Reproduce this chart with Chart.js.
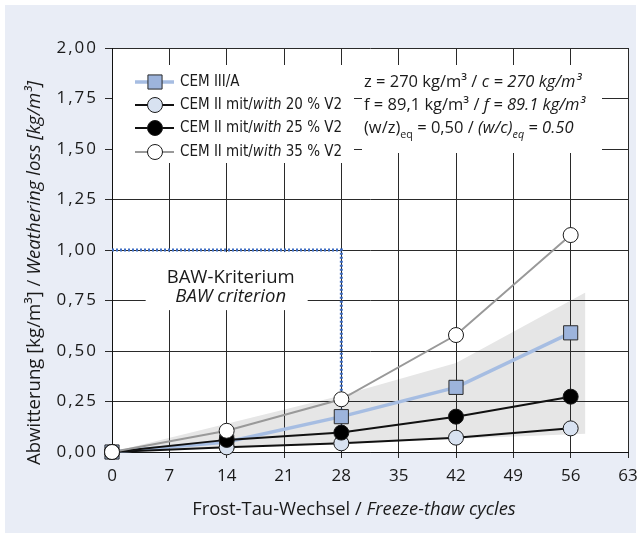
<!DOCTYPE html>
<html>
<head>
<meta charset="utf-8">
<script src="https://cdn.jsdelivr.net/npm/chart.js@4"></script>
<style>
  body { margin: 0; background: #fff; }
  #wrap { position: relative; width: 641px; height: 535px; }
  #bg { position: absolute; left: 5px; top: 5px; width: 631px; height: 528px; background: #e9edf6; }
  #plotbg { position: absolute; left: 112px; top: 48px; width: 516px; height: 404px; background: #fff; }
  canvas { position: absolute; left: 0; top: 0; }
</style>
</head>
<body>
<div id="wrap">
  <div id="bg"></div>
  <div id="plotbg"></div>
  <canvas id="chart" width="641" height="535"></canvas>
</div>
<script>
const cycles = [0, 14, 28, 42, 56];
const cem3a = [0, 0.05, 0.175, 0.32, 0.59];
const cem2v20 = [0, 0.023, 0.043, 0.071, 0.117];
const cem2v25 = [0, 0.06, 0.096, 0.175, 0.274];
const cem2v35 = [0, 0.105, 0.261, 0.579, 1.074];

const bawX = [0, 28, 28];
const bawY = [1, 1, 0];

const bandX = [0, 28, 42, 57.8];
const bandUpper = [0, 0.28, 0.44, 0.79];
const bandLower = [0, 0.04, 0.065, 0.09];

const xTicks = [0, 7, 14, 21, 28, 35, 42, 49, 56, 63];
const yTicks = [0, 0.25, 0.5, 0.75, 1, 1.25, 1.5, 1.75, 2];
const yTickLabels = ['0,00', '0,25', '0,50', '0,75', '1,00', '1,25', '1,50', '1,75', '2,00'];

const pts = (xs, ys) => xs.map((x, i) => ({ x: x, y: ys[i] }));

const FONT = '"Open Sans", sans-serif';
const NARROW = '"Liberation Sans Narrow", "DejaVu Sans Condensed", sans-serif';
const TXT = '#1a1a1a';

// draws text made of several runs (normal / italic / subscript)
function drawRich(ctx, x, y, parts, size, family, align) {
  const fontFor = p => (p.italic ? 'italic ' : '') + (p.sub ? size * 0.65 : size) + 'px ' + family;
  let total = 0;
  parts.forEach(p => { ctx.font = fontFor(p); total += ctx.measureText(p.t).width; });
  let cx = align === 'center' ? x - total / 2 : x;
  ctx.textAlign = 'left';
  ctx.textBaseline = 'middle';
  parts.forEach(p => {
    ctx.font = fontFor(p);
    ctx.fillText(p.t, cx, p.sub ? y + size * 0.4 : y);
    cx += ctx.measureText(p.t).width;
  });
}

// legend rows point at dataset indexes
const legendItems = [
  { ds: 3, parts: [{ t: 'CEM III/A' }] },
  { ds: 2, parts: [{ t: 'CEM II mit/' }, { t: 'with', italic: true }, { t: ' 20 % V2' }] },
  { ds: 1, parts: [{ t: 'CEM II mit/' }, { t: 'with', italic: true }, { t: ' 25 % V2' }] },
  { ds: 0, parts: [{ t: 'CEM II mit/' }, { t: 'with', italic: true }, { t: ' 35 % V2' }] }
];

const annot = {
  id: 'annot',
  beforeDraw(chart) {
    // y tick labels are wider spaced in the original
    chart.ctx.letterSpacing = '2px';
  },
  beforeDatasetsDraw(chart) {
    const { ctx, chartArea: a, scales: { x, y } } = chart;
    ctx.letterSpacing = '0px';
    ctx.save();
    ctx.fillStyle = '#fff';
    ctx.fillRect(a.left + 1, 65, 241, 98);
    ctx.fillRect(362, 65, 240, 88);
    const bx = x.getPixelForValue(14), by = y.getPixelForValue(0.846);
    ctx.fillRect(bx - 81, by - 29, 162, 58);

    ctx.fillStyle = TXT;
    drawRich(ctx, bx + 4, by - 3, [{ t: 'BAW-Kriterium' }], 18.5, FONT, 'center');
    drawRich(ctx, bx + 4, by + 16, [{ t: 'BAW criterion', italic: true }], 18.5, FONT, 'center');

    // legend
    const rows = [82, 105, 128, 152];
    legendItems.forEach((it, i) => {
      const d = chart.data.datasets[it.ds];
      const ry = rows[i];
      ctx.strokeStyle = d.borderColor;
      ctx.lineWidth = d.borderWidth;
      ctx.beginPath();
      ctx.moveTo(135, ry);
      ctx.lineTo(174, ry);
      ctx.stroke();
      ctx.fillStyle = d.pointBackgroundColor;
      ctx.strokeStyle = d.pointBorderColor;
      ctx.lineWidth = d.pointBorderWidth;
      Chart.helpers.drawPoint(ctx, { pointStyle: d.pointStyle, radius: d.pointRadius, rotation: 0, borderWidth: d.pointBorderWidth }, 155, ry);
      ctx.fillStyle = TXT;
      drawRich(ctx, 180, ry, it.parts, 15, NARROW, 'left');
    });

    // mix parameters
    ctx.fillStyle = TXT;
    drawRich(ctx, 364, 82, [{ t: 'z = 270 kg/m³ / ' }, { t: 'c = 270 kg/m³', italic: true }], 16.5, FONT, 'left');
    drawRich(ctx, 364, 105, [{ t: 'f = 89,1 kg/m³ / ' }, { t: 'f = 89.1 kg/m³', italic: true }], 16.5, FONT, 'left');
    drawRich(ctx, 364, 128, [
      { t: '(w/z)' }, { t: 'eq', sub: true }, { t: ' = 0,50 / ' },
      { t: '(w/c)', italic: true }, { t: 'eq', italic: true, sub: true }, { t: ' = 0.50', italic: true }
    ], 16.5, FONT, 'left');
    ctx.restore();
  },
  afterDraw(chart) {
    const { ctx } = chart;
    ctx.save();
    ctx.letterSpacing = '0px';
    ctx.fillStyle = TXT;
    drawRich(ctx, 354, 510, [{ t: 'Frost-Tau-Wechsel / ' }, { t: 'Freeze-thaw cycles', italic: true }], 18.4, FONT, 'center');
    ctx.translate(35, 273);
    ctx.rotate(-Math.PI / 2);
    drawRich(ctx, 0, 0, [{ t: 'Abwitterung [kg/m³] / ' }, { t: 'Weathering loss [kg/m³]', italic: true }], 18.6, FONT, 'center');
    ctx.restore();
  }
};

const noPad = s => { s.paddingLeft = 0; s.paddingRight = 0; s.paddingTop = 0; s.paddingBottom = 0; };

const circle = (fill, color, width) => ({
  borderColor: color, borderWidth: width, pointStyle: 'circle', pointRadius: 7.5,
  pointBackgroundColor: fill, pointBorderColor: '#1a1a1a', pointBorderWidth: 1
});

new Chart(document.getElementById('chart'), {
  type: 'line',
  data: {
    // first dataset is painted last (on top)
    datasets: [
      Object.assign({ label: 'CEM II mit/with 35 % V2', data: pts(cycles, cem2v35) }, circle('#fff', '#999', 2)),
      Object.assign({ label: 'CEM II mit/with 25 % V2', data: pts(cycles, cem2v25) }, circle('#000', '#111', 2)),
      Object.assign({ label: 'CEM II mit/with 20 % V2', data: pts(cycles, cem2v20) }, circle('#d8e2f1', '#111', 2)),
      Object.assign({ label: 'CEM III/A', data: pts(cycles, cem3a) },
        { borderColor: '#a6bde2', borderWidth: 3.5, pointStyle: 'rect', pointRadius: 10,
          pointBackgroundColor: '#9db4dc', pointBorderColor: '#2a2a2a', pointBorderWidth: 1 }),
      { label: 'BAW', data: pts(bawX, bawY), borderColor: '#3f6ec4', borderWidth: 3, borderDash: [2, 2], pointRadius: 0 },
      { label: 'band upper', data: pts(bandX, bandUpper), borderWidth: 0, pointRadius: 0, fill: '+1', backgroundColor: '#e6e6e6' },
      { label: 'band lower', data: pts(bandX, bandLower), borderWidth: 0, pointRadius: 0, fill: false }
    ].map(d => Object.assign(d, { clip: false, tension: 0 }))
  },
  options: {
    responsive: false,
    animation: false,
    devicePixelRatio: 1,
    layout: { padding: { left: 0, top: 48, right: 13, bottom: 0 } },
    plugins: {
      legend: { display: false },
      tooltip: { enabled: false },
      filler: { drawTime: 'beforeDraw' }
    },
    scales: {
      x: {
        type: 'linear', min: 0, max: 63,
        afterFit: s => { s.height = 83; noPad(s); },
        afterBuildTicks: s => { s.ticks = xTicks.map(v => ({ value: v })); },
        grid: { color: '#2a2a2a', lineWidth: 1, tickLength: 6, tickColor: '#2a2a2a' },
        border: { color: '#111', width: 1 },
        ticks: { z: 1, color: TXT, font: { family: FONT, size: 17 }, padding: 8, maxRotation: 0 }
      },
      y: {
        min: 0, max: 2,
        afterFit: s => { s.width = 112; noPad(s); },
        afterBuildTicks: s => { s.ticks = yTicks.map(v => ({ value: v })); },
        grid: { color: '#2a2a2a', lineWidth: 1, tickLength: 7, tickColor: '#2a2a2a' },
        border: { color: '#111', width: 1 },
        ticks: { color: TXT, font: { family: FONT, size: 17 }, padding: 7,
          callback: (v, i) => yTickLabels[i] }
      }
    }
  },
  plugins: [annot]
});
</script>
</body>
</html>
